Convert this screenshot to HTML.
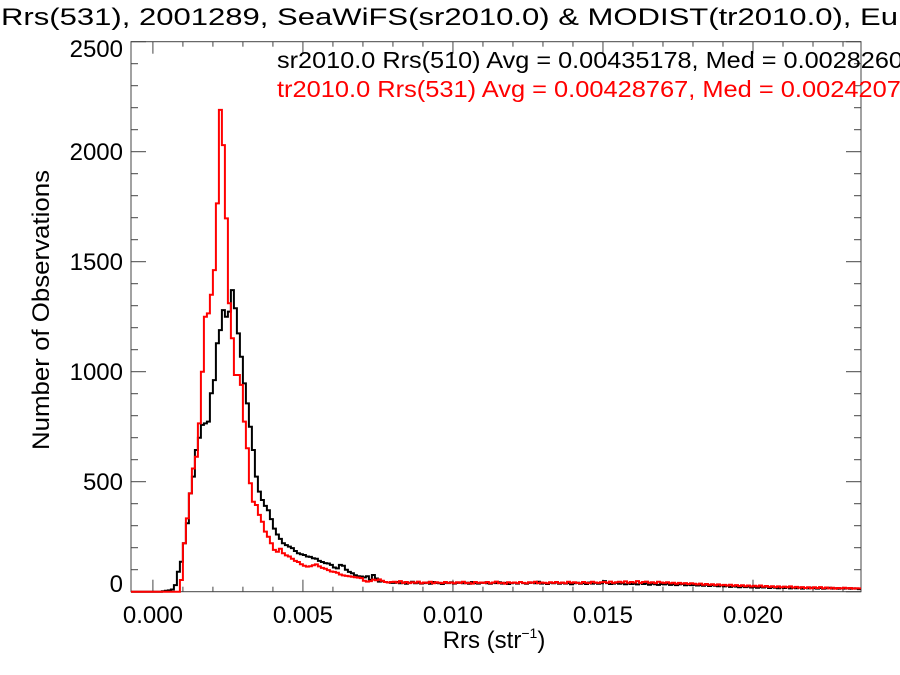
<!DOCTYPE html>
<html><head><meta charset="utf-8"><style>
html,body{margin:0;padding:0;background:#fff;}
svg{display:block;font-family:"Liberation Sans",Arial,sans-serif;}
</style></head><body>
<svg id="chart" width="900" height="675" viewBox="0 0 900 675" xmlns="http://www.w3.org/2000/svg">
<text x="1" y="25" font-size="24" textLength="897" lengthAdjust="spacingAndGlyphs">Rrs(531), 2001289, SeaWiFS(sr2010.0) &amp; MODIST(tr2010.0), Eu</text>
<g id="axes"></g>
<g id="series"></g>
<text x="277" y="68" font-size="23" textLength="640" lengthAdjust="spacingAndGlyphs" fill="#000">sr2010.0 Rrs(510) Avg = 0.00435178, Med = 0.00282600</text>
<text x="277" y="97" font-size="23" textLength="638" lengthAdjust="spacingAndGlyphs" fill="#ff0000">tr2010.0 Rrs(531) Avg = 0.00428767, Med = 0.00242070</text>
<text transform="translate(49,310) rotate(-90)" text-anchor="middle" font-size="24" textLength="280" lengthAdjust="spacingAndGlyphs">Number of Observations</text>
<text x="494" y="648" text-anchor="middle" font-size="24">Rrs (str<tspan font-size="14" dy="-10">−1</tspan><tspan dy="10">)</tspan></text>
</svg>
<script>
const binWidth = 0.0001;
const binStart = 0.0000;
const xTicks = [0.000, 0.005, 0.010, 0.015, 0.020];
const xTickLabels = ["0.000", "0.005", "0.010", "0.015", "0.020"];
const yTicks = [0, 500, 1000, 1500, 2000, 2500];
const yTickLabels = ["0", "500", "1000", "1500", "2000", "2500"];
const seawifsCounts = [
0,0,0,2,4,6,10,30,91,
136,220,311,447,523,644,700,758,765,773,
902,962,1129,1189,1280,1250,1273,1371,1288,1174,
1068,947,856,750,644,
523,455,417,390,370,330,287,260,240,220,
212,205,198,185,175,170,167,160,158,152,
150,140,135,130,128,122,110,106,122,118,
100,90,84,75,70,69,65,70,54,76,
60,46,48,44,42,40,
40,44,38,42,36,40,45,38,41,37,
39,42,36,44,40,38,35,41,39,43,
37,40,42,38,41,36,44,39,37,40,
42,38,36,41,39,43,37,40,35,38,
41,37,44,39,36,40,42,38,45,37,
39,35,41,38,42,36,40,37,39,34,
38,41,36,39,35,42,37,40,36,38,
48,39,35,37,40,36,38,34,37,35,
36,33,38,35,37,32,36,34,31,35,
33,36,31,34,30,33,35,29,32,30,
31,28,30,27,32,26,29,27,25,28,
24,27,22,25,23,20,24,21,23,19,
22,18,21,19,23,17,20,18,16,19,
17,20,15,18,16,19,14,17,15,18,
16,14,17,13,15,18,14,16,13,15,
14,16,13,15,14,12];
const modisCounts = [
0,0,0,0,0,0,0,0,0,
53,220,333,447,560,613,765,1000,1250,1265,
1350,1462,1765,2190,2030,1697,1311,1152,985,985,
940,773,652,493,409,394,349,318,273,250,
220,190,182,195,175,165,160,150,140,135,
125,118,114,116,120,124,115,108,104,98,
92,90,86,78,74,72,70,68,66,64,
62,50,46,48,55,52,56,50,44,42,
44,
45,42,48,40,44,39,43,41,46,38,
42,40,45,38,43,41,39,44,40,42,
38,43,40,45,39,41,37,44,40,42,
40,44,38,42,46,39,41,37,43,40,
42,39,44,40,38,43,41,45,39,42,
41,38,43,40,44,39,42,38,45,41,
43,40,38,44,41,39,45,42,40,43,
44,41,46,40,43,45,42,47,41,44,
42,48,40,44,46,41,43,39,45,42,
40,43,38,41,36,40,37,39,35,38,
36,33,37,32,35,31,34,30,33,29,
31,28,32,27,30,26,29,25,28,24,
27,24,28,23,26,22,25,21,24,20,
23,20,24,19,22,18,21,17,20,16,
20,17,21,16,19,15,18,14,17,15,
18,15,17,14,16,15];

const NS = "http://www.w3.org/2000/svg";
const L = 131, R = 861, T = 41.7, B = 591.7;
const xMin = -0.00073, xMax = 0.02360, yMin = 0, yMax = 2500;
function xs(v){ return L + (v - xMin) / (xMax - xMin) * (R - L); }
function ys(v){ return B - (v - yMin) / (yMax - yMin) * (B - T); }
function mk(tag, attrs, parent){
  const e = document.createElementNS(NS, tag);
  for (const k in attrs) e.setAttribute(k, attrs[k]);
  parent.appendChild(e);
  return e;
}
const axes = document.getElementById('axes');
const box = mk('rect', {x:L, y:T, width:R-L, height:B-T, fill:'none', stroke:'#444', 'stroke-width':1}, axes);


for (let i = 0; i <= 23; i++) {
  const v = i * 0.001;
  const x = xs(v);
  const major = (i % 5 === 0);
  const len = major ? 12 : 5;
  const t1 = mk('line', {x1:x, x2:x, y1:B, y2:B-len, stroke:'#444'}, axes);
  
  
  const t2 = mk('line', {x1:x, x2:x, y1:T, y2:T+len, stroke:'#444'}, axes);
  
  
}
xTicks.forEach((v, i) => {
  const t = mk('text', {x:xs(v), y:623, 'text-anchor':'middle', 'font-size':24}, axes);
  t.textContent = xTickLabels[i];
  
  
});
for (let c = 0; c <= 2500; c += 100) {
  const y = ys(c);
  const major = (c % 500 === 0);
  const len = major ? 15 : 7;
  const t1 = mk('line', {x1:L, x2:L+len, y1:y, y2:y, stroke:'#444'}, axes);
  
  
  const t2 = mk('line', {x1:R, x2:R-len, y1:y, y2:y, stroke:'#444'}, axes);
  
  
}
yTicks.forEach((v, i) => {
  let off = 8.5;
  if (i === 0) off = 0.3;
  if (i === yTicks.length - 1) off = 15.3;
  const t = mk('text', {x:123, y:ys(v)+off, 'text-anchor':'end', 'font-size':24}, axes);
  t.textContent = yTickLabels[i];
  
  
});
const series = document.getElementById('series');
function stepPath(counts){
  let d = 'M' + L + ',' + ys(0).toFixed(1) + ' L' + xs(binStart).toFixed(1) + ',' + ys(0).toFixed(1);
  counts.forEach((c, i) => {
    const x0 = xs(binStart + i * binWidth), x1 = xs(binStart + (i + 1) * binWidth);
    const y = ys(c);
    d += ' L' + x0.toFixed(1) + ',' + y.toFixed(1) + ' L' + Math.min(x1, R).toFixed(1) + ',' + y.toFixed(1);
  });
  return d;
}
const p1 = mk('path', {d:stepPath(seawifsCounts), fill:'none', stroke:'#000', 'stroke-width':2}, series);


const p2 = mk('path', {d:stepPath(modisCounts), fill:'none', stroke:'#ff0000', 'stroke-width':2}, series);


</script>
</body></html>
